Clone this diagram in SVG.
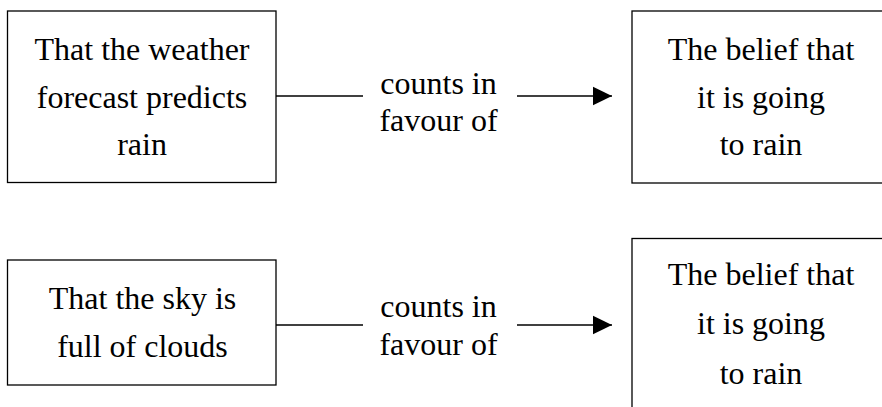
<svg xmlns="http://www.w3.org/2000/svg" width="882" height="407" viewBox="0 0 882 407">
<style>
.box{fill:#fff;stroke:#000;stroke-width:1.3}
.t{font-family:'Liberation Serif','DejaVu Serif','Noto Serif',serif;font-size:32px;fill:#000;text-anchor:middle}
.ln{stroke:#000;stroke-width:1.3;fill:none}
</style>
<defs>
<marker id="ah" markerUnits="userSpaceOnUse" markerWidth="20" markerHeight="20" refX="19.5" refY="10" orient="auto">
<path d="M0,0.5 L19.5,10 L0,19.5 Z" fill="#000"/>
</marker>
</defs>
<rect width="882" height="407" fill="#fff"/>
<g id="n1">
<rect class="box" x="7.5" y="11" width="268.5" height="171.5"/>
<text class="t" x="142" y="60">That the weather</text>
<text class="t" x="142" y="107.5">forecast predicts</text>
<text class="t" x="142" y="155">rain</text>
</g>
<g id="n2">
<rect class="box" x="632" y="11" width="270" height="172"/>
<text class="t" x="761" y="60">The belief that</text>
<text class="t" x="761" y="108">it is going</text>
<text class="t" x="761" y="155">to rain</text>
</g>
<g id="n3">
<rect class="box" x="7.5" y="260" width="268.5" height="125"/>
<text class="t" x="142.5" y="308.5">That the sky is</text>
<text class="t" x="142.5" y="357">full of clouds</text>
</g>
<g id="n4">
<rect class="box" x="632" y="238.5" width="270" height="190"/>
<text class="t" x="761" y="285">The belief that</text>
<text class="t" x="761" y="333.5">it is going</text>
<text class="t" x="761" y="383.5">to rain</text>
</g>
<g id="connectors">
<line class="ln" x1="276" y1="96" x2="363" y2="96"/>
<line class="ln" x1="517" y1="96" x2="612" y2="96" marker-end="url(#ah)"/>
<text class="t" x="438.5" y="93.5">counts in</text>
<text class="t" x="438.5" y="130.5">favour of</text>
<line class="ln" x1="276" y1="325" x2="363" y2="325"/>
<line class="ln" x1="517" y1="325" x2="612" y2="325" marker-end="url(#ah)"/>
<text class="t" x="438.5" y="317">counts in</text>
<text class="t" x="438.5" y="355">favour of</text>
</g>
</svg>
